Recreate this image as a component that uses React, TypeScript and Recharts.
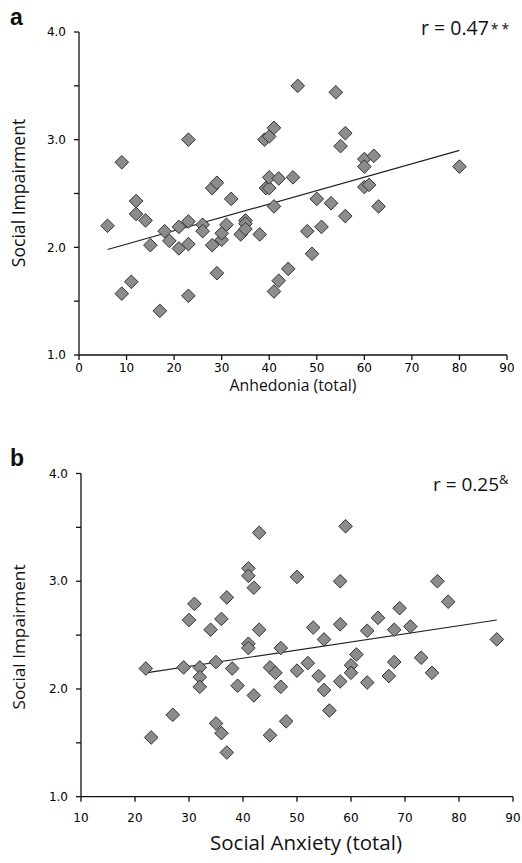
import { ScatterChart, Scatter, XAxis, YAxis, ReferenceLine } from 'recharts';

// panel a: anhedonia vs social impairment
const anhedonia = [
  6, 9, 9, 11, 12, 12, 14, 15, 17, 18, 19, 21, 21, 23, 23, 23, 23, 26, 26, 28,
  29, 28, 29, 30, 30, 31, 32, 34, 35, 35, 35, 38, 39, 40, 41, 39.3, 40, 40, 42, 45,
  41, 41, 42, 44, 46, 48, 49, 50, 51, 53, 54, 55, 56, 56, 60, 62, 60, 60, 61, 63, 80,
];
const impairmentA = [
  2.2, 2.79, 1.57, 1.68, 2.43, 2.31, 2.25, 2.02, 1.41, 2.15, 2.06, 2.19, 1.99, 3.0, 2.24, 2.03, 1.55, 2.21, 2.15, 2.55,
  2.6, 2.02, 1.76, 2.07, 2.13, 2.21, 2.45, 2.12, 2.25, 2.22, 2.17, 2.12, 3.0, 3.03, 3.11, 2.55, 2.55, 2.65, 2.64, 2.65,
  2.38, 1.59, 1.69, 1.8, 3.5, 2.15, 1.94, 2.45, 2.19, 2.41, 3.44, 2.94, 3.06, 2.29, 2.82, 2.85, 2.75, 2.56, 2.58, 2.38, 2.75,
];
const fitA = [
  { x: 6, y: 1.98 },
  { x: 80, y: 2.9 },
];

// panel b: social anxiety vs social impairment
const socialAnxiety = [
  22, 23, 27, 29, 30, 31, 32, 32, 32, 34, 35, 35, 36, 36, 37, 37, 38, 39, 41, 41,
  41, 41, 42, 42, 43, 43, 45, 45, 46, 47, 47, 48, 50, 50, 52, 53, 54, 55, 55, 56,
  58, 58, 58, 59, 60, 60, 61, 63, 63, 65, 67, 68, 68, 69, 71, 73, 75, 76, 78, 87,
];
const impairmentB = [
  2.19, 1.55, 1.76, 2.2, 2.64, 2.79, 2.2, 2.11, 2.02, 2.55, 2.25, 1.68, 2.65, 1.59, 2.85, 1.41, 2.19, 2.03, 3.12, 3.05,
  2.42, 2.38, 2.94, 1.94, 3.45, 2.55, 2.2, 1.57, 2.15, 2.38, 2.02, 1.7, 3.04, 2.17, 2.24, 2.57, 2.12, 2.46, 1.99, 1.8,
  3.0, 2.6, 2.07, 3.51, 2.22, 2.15, 2.32, 2.54, 2.06, 2.66, 2.12, 2.55, 2.25, 2.75, 2.58, 2.29, 2.15, 3.0, 2.81, 2.46,
];
const fitB = [
  { x: 22, y: 2.15 },
  { x: 87, y: 2.64 },
];

const xTicksA = [0, 10, 20, 30, 40, 50, 60, 70, 80, 90];
const xTicksB = [10, 20, 30, 40, 50, 60, 70, 80, 90];
const yTicks = [1, 1.5, 2, 2.5, 3, 3.5, 4];

const dataA = anhedonia.map((x, i) => ({ x, y: impairmentA[i] }));
const dataB = socialAnxiety.map((x, i) => ({ x, y: impairmentB[i] }));

const tickStyle = { fontFamily: 'DejaVu Sans', fontSize: 12, fill: '#000' };
const labelFont = 'Open Sans';

const Diamond = (props: any) => {
  const { cx, cy } = props;
  const r = 6.8;
  return (
    <path
      d={`M${cx},${cy - r}L${cx + r},${cy}L${cx},${cy + r}L${cx - r},${cy}Z`}
      fill="#8c8c8c"
      stroke="#333"
      strokeWidth={1}
    />
  );
};

const yFmt = (v: number) => (v % 1 === 0 ? v.toFixed(1) : '');

function Panel({ data, fit, xTicks, xDomain, width, height, margin, yWidth, xHeight, xTickMargin }: any) {
  return (
    <ScatterChart width={width} height={height} margin={margin}>
      <XAxis
        type="number"
        dataKey="x"
        domain={xDomain}
        ticks={xTicks}
        interval={0}
        tick={tickStyle}
        tickSize={5}
        tickMargin={xTickMargin}
        height={xHeight}
        axisLine={{ stroke: '#111', strokeWidth: 1.3 }}
        tickLine={{ stroke: '#111', strokeWidth: 1.3 }}
      />
      <YAxis
        type="number"
        dataKey="y"
        domain={[1, 4]}
        ticks={yTicks}
        interval={0}
        tickFormatter={yFmt}
        tick={tickStyle}
        tickSize={5}
        tickMargin={8}
        width={yWidth}
        axisLine={{ stroke: '#111', strokeWidth: 1.3 }}
        tickLine={{ stroke: '#111', strokeWidth: 1.3 }}
      />
      <ReferenceLine segment={fit} stroke="#222" strokeWidth={1.2} />
      <Scatter data={data} shape={Diamond} isAnimationActive={false} />
    </ScatterChart>
  );
}

export default function App() {
  return (
    <div style={{ position: 'absolute', left: 0, top: 0, width: 522, height: 863, background: '#fff' }}>
      <div style={{ position: 'absolute', left: 0, top: 0 }}>
        <Panel
          data={dataA}
          fit={fitA}
          xTicks={xTicksA}
          xDomain={[0, 90]}
          width={522}
          height={430}
          margin={{ top: 32, right: 15, bottom: 0, left: 0 }}
          yWidth={79}
          xHeight={75}
          xTickMargin={3}
        />
      </div>
      <div style={{ position: 'absolute', left: 0, top: 430 }}>
        <Panel
          data={dataB}
          fit={fitB}
          xTicks={xTicksB}
          xDomain={[10, 90]}
          width={522}
          height={433}
          margin={{ top: 43.5, right: 9, bottom: 0, left: 0 }}
          yWidth={81}
          xHeight={66.3}
          xTickMargin={12}
        />
      </div>
      <svg width={522} height={863} style={{ position: 'absolute', left: 0, top: 0, pointerEvents: 'none' }}>
        <text x={10} y={25} fontFamily="Liberation Sans" fontWeight="bold" fontSize={23} fill="#111">a</text>
        <text x={421} y={35} fontFamily={labelFont} fontSize={19.5} fill="#111">
          r = 0.47<tspan fontSize={14} dx={2} dy={-1} letterSpacing={3}>**</tspan>
        </text>
        <text x={18} y={193} transform="rotate(-90 18 193)" textAnchor="middle" dominantBaseline="central" fontFamily={labelFont} fontSize={17.6} fill="#111">
          Social Impairment
        </text>
        <text x={293} y={385} textAnchor="middle" dominantBaseline="central" fontFamily={labelFont} fontSize={15.8} fill="#111">
          Anhedonia (total)
        </text>

        <text x={10} y={466} fontFamily="Liberation Sans" fontWeight="bold" fontSize={23} fill="#111">b</text>
        <text x={433} y={491} fontFamily={labelFont} fontSize={19} fill="#111">
          r = 0.25<tspan fontSize={13} dy={-7}>&amp;</tspan>
        </text>
        <text x={18} y={637} transform="rotate(-90 18 637)" textAnchor="middle" dominantBaseline="central" fontFamily={labelFont} fontSize={17.2} fill="#111">
          Social Impairment
        </text>
        <text x={306} y={842} textAnchor="middle" dominantBaseline="central" fontFamily={labelFont} fontSize={20.5} fill="#111">
          Social Anxiety (total)
        </text>
      </svg>
    </div>
  );
}
